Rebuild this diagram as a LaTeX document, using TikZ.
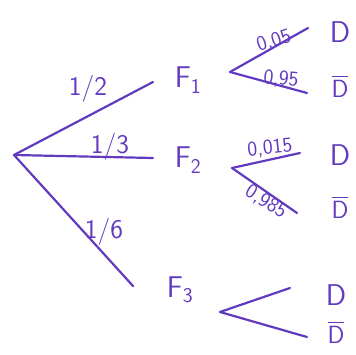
\documentclass[tikz,border=0pt]{standalone}
\usepackage{amsmath}
\usetikzlibrary{positioning}
\definecolor{penPurple}{RGB}{98,58,192}
\tikzset{
  branch/.style={draw=penPurple, line width=2.2pt, line cap=round},
  event/.style={text=penPurple, font=\sffamily\fontsize{30}{32}\selectfont, inner sep=1pt},
  prob/.style={text=penPurple, font=\sffamily\fontsize{27}{29}\selectfont, inner sep=1pt},
  cond/.style={text=penPurple, font=\sffamily\fontsize{21}{23}\selectfont, inner sep=0pt},
}
\newcommand{\nD}{$\overline{\mathsf{D}}$}

\begin{document}
\begin{tikzpicture}[x=1pt, y=-1pt]
  \useasboundingbox (0,0) rectangle (356,355);
  % first stage
  \coordinate (root) at (14,155);
  \coordinate (e1) at (153,82);
  \coordinate (e2) at (153,158);
  \coordinate (e3) at (133,286);
  \node[event] (F1) at (188,80) {F\textsubscript{1}};
  \node[event] (F2) at (188,160) {F\textsubscript{2}};
  \node[event] (F3) at (180,290) {F\textsubscript{3}};
  \draw[branch] (root) -- (e1);
  \draw[branch] (root) -- (e2);
  \draw[branch] (root) -- (e3);
  \node[prob] (p1) at (88,89) {1/2};
  \node[prob] (p2) at (110,147) {1/3};
  \node[prob] (p3) at (104,232) {1/6};
  % second stage
  \coordinate (s1) at (230,72);
  \coordinate (s1u) at (308,28);
  \coordinate (s1l) at (307,93);
  \coordinate (s2) at (232,168);
  \coordinate (s2u) at (300,153);
  \coordinate (s2l) at (297,213);
  \coordinate (s3) at (220,312);
  \coordinate (s3u) at (290,288);
  \coordinate (s3l) at (307,337);
  \foreach \k in {1,2,3} {
    \draw[branch] (s\k) -- (s\k u);
    \draw[branch] (s\k) -- (s\k l);
  }
  \node[event] (D1) at (340,32) {D};
  \node[event] (nD1) at (340,86) {\nD};
  \node[event] (D2) at (340,155) {D};
  \node[event] (nD2) at (340,207) {\nD};
  \node[event] (D3) at (336,295) {D};
  \node[event] (nD3) at (336,332) {\nD};
  \node[cond, rotate=18] (q11) at (274,41) {0,05};
  \node[cond, rotate=-5] (q12) at (281,79) {0,95};
  \node[cond, rotate=6] (q21) at (270,148) {0,015};
  \node[cond, rotate=-32] (q22) at (266,202) {0,985};
\end{tikzpicture}
\end{document}
